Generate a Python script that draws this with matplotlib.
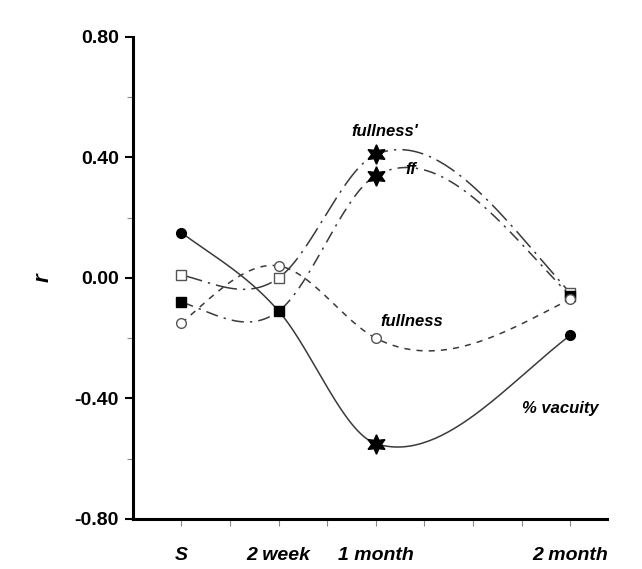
import numpy as np
import matplotlib.pyplot as plt

# x positions of the sampling times
xpos = [1, 3, 5, 9]
cats = ['S', '2 week', '1 month', '2 month']

vacuity = [0.15, -0.11, -0.55, -0.19]
fullness_p = [0.01, 0.00, 0.41, -0.05]
ff = [-0.08, -0.11, 0.34, -0.06]
fullness = [-0.15, 0.04, -0.20, -0.07]


def spline(x, y, n=60, w=0.5):
    # hermite curve, knot slopes = blend of natural spline and catmull-rom
    x = np.asarray(x, float)
    y = np.asarray(y, float)
    k = len(x)
    h = np.diff(x)
    # natural spline slopes
    A = np.zeros((k, k))
    b = np.zeros(k)
    A[0, 0] = 1
    A[-1, -1] = 1
    for i in range(1, k - 1):
        A[i, i - 1] = h[i - 1]
        A[i, i] = 2 * (h[i - 1] + h[i])
        A[i, i + 1] = h[i]
        b[i] = 3 * ((y[i + 1] - y[i]) / h[i] - (y[i] - y[i - 1]) / h[i - 1])
    c = np.linalg.solve(A, b)
    mn = np.zeros(k)
    for i in range(k - 1):
        mn[i] = (y[i + 1] - y[i]) / h[i] - h[i] * (2 * c[i] + c[i + 1]) / 3
    i = k - 2
    d = (c[i + 1] - c[i]) / (3 * h[i])
    mn[-1] = mn[i] + 2 * c[i] * h[i] + 3 * d * h[i] ** 2
    # catmull-rom slopes
    mc = np.zeros(k)
    mc[0] = (y[1] - y[0]) / h[0]
    mc[-1] = (y[-1] - y[-2]) / h[-1]
    for i in range(1, k - 1):
        mc[i] = (y[i + 1] - y[i - 1]) / (x[i + 1] - x[i - 1])
    m = w * mn + (1 - w) * mc
    xs_all, ys_all = [], []
    for i in range(k - 1):
        t = np.linspace(0, 1, n)
        h00 = 2 * t**3 - 3 * t**2 + 1
        h10 = t**3 - 2 * t**2 + t
        h01 = -2 * t**3 + 3 * t**2
        h11 = t**3 - t**2
        xs_all.append(x[i] + t * h[i])
        ys_all.append(h00 * y[i] + h10 * h[i] * m[i] + h01 * y[i + 1] + h11 * h[i] * m[i + 1])
    return np.concatenate(xs_all), np.concatenate(ys_all)


star6 = (6, 1, 0)
lc = '#3a3a3a'

fig = plt.figure(figsize=(6.42, 5.69), dpi=100)
ax = fig.add_axes([0.207, 0.088, 0.738, 0.847])

# % vacuity
sx, sy = spline(xpos, vacuity, w=0.3)
ax.plot(sx, sy, color=lc, lw=1.1)
ax.plot([xpos[0], xpos[1], xpos[3]], [vacuity[0], vacuity[1], vacuity[3]], 'o',
        color='black', ms=7)
ax.plot(xpos[2], vacuity[2], marker=star6, color='black', ms=14, ls='none')

# fullness'
sx, sy = spline(xpos, fullness_p)
ax.plot(sx, sy, color=lc, lw=1.1, dashes=(14, 4, 1.5, 4))
ax.plot([xpos[0], xpos[1], xpos[3]], [fullness_p[0], fullness_p[1], fullness_p[3]], 's',
        mfc='white', mec='#555555', ms=7.5, mew=1)
ax.plot(xpos[2], fullness_p[2], marker=star6, color='black', ms=14, ls='none')

# ff
sx, sy = spline(xpos, ff)
ax.plot(sx, sy, color=lc, lw=1.1, dashes=(8, 4, 1.5, 4))
ax.plot([xpos[0], xpos[1], xpos[3]], [ff[0], ff[1], ff[3]], 's',
        color='black', ms=7.5)
ax.plot(xpos[2], ff[2], marker=star6, color='black', ms=14, ls='none')

# fullness
sx, sy = spline(xpos, fullness, w=0.7)
ax.plot(sx, sy, color=lc, lw=1.1, dashes=(4, 4))
ax.plot(xpos, fullness, 'o', mfc='white', mec='#555555', ms=7, mew=1)

bf = dict(fontsize=12, fontweight='bold', style='italic', family='Liberation Sans',
          ha='center', va='center')
ax.text(5.18, 0.485, "fullness'", **bf)
ax.text(5.72, 0.36, 'ff', **bf)
ax.text(5.74, -0.143, 'fullness', **bf)
ax.text(8.8, -0.435, '% vacuity', **bf)

ax.set_xlim(0, 9.75)
ax.set_ylim(-0.8, 0.8)
ax.set_yticks([-0.8, -0.4, 0.0, 0.4, 0.8])
ax.set_yticklabels(['-0.80', '-0.40', '0.00', '0.40', '0.80'])
ax.set_yticks([-0.6, -0.2, 0.2, 0.6], minor=True)
ax.set_xticks(range(1, 10))
ax.set_xticklabels(['S', '', '2 week', '', '1 month', '', '', '', '2 month'])

for s in ['top', 'right']:
    ax.spines[s].set_visible(False)
for s in ['left', 'bottom']:
    ax.spines[s].set_linewidth(2.2)

ax.tick_params(axis='y', which='major', length=6, width=1.5, labelsize=14, pad=4)
ax.tick_params(axis='y', which='minor', length=4, width=0.8, color='#888888')
ax.tick_params(axis='x', length=5, width=0.8, color='#888888', labelsize=14, pad=15)
for t in ax.get_yticklabels() + ax.get_xticklabels():
    t.set_fontweight('bold')
    t.set_family('Liberation Sans')
for t in ax.get_xticklabels():
    t.set_style('italic')

ax.set_ylabel('r', fontsize=16, fontweight='bold', style='italic',
              family='Liberation Sans', labelpad=15)

fig.savefig('out.png', dpi=100)
